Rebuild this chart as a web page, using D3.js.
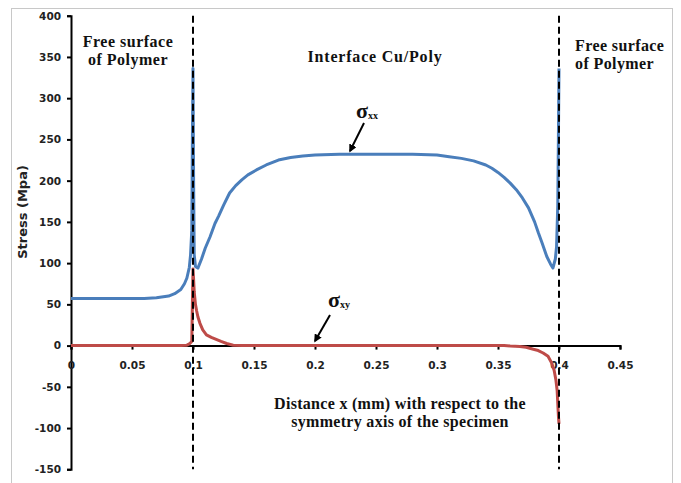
<!DOCTYPE html>
<html><head><meta charset="utf-8">
<script src="https://cdn.jsdelivr.net/npm/d3@7"></script>
<style>body{margin:0;background:#fff}svg{display:block}</style>
</head><body><svg id="c" width="681" height="483"></svg>
<script>
// ---- data ----
const xTicks = [0, 0.05, 0.1, 0.15, 0.2, 0.25, 0.3, 0.35, 0.4, 0.45];
const xTickLabels = ["0","0.05","0.1","0.15","0.2","0.25","0.3","0.35","0.4","0.45"];
const yTicks = [-150, -100, -50, 0, 50, 100, 150, 200, 250, 300, 350, 400];
const yTickLabels = ["-150","-100","-50","0","50","100","150","200","250","300","350","400"];
const interfaces = [0.1, 0.4];

const sxxX = [0, 0.02, 0.04, 0.06, 0.07, 0.08, 0.085, 0.09, 0.093, 0.095, 0.097, 0.098, 0.099, 0.0995, 0.1,
  0.1005, 0.101, 0.102, 0.104, 0.107, 0.11, 0.114, 0.118, 0.121, 0.125, 0.13, 0.135, 0.14, 0.145, 0.152,
  0.16, 0.17, 0.18, 0.19, 0.2, 0.22, 0.25, 0.28, 0.3, 0.31, 0.32, 0.33, 0.34, 0.345, 0.35, 0.355, 0.36,
  0.365, 0.37, 0.375, 0.38, 0.383, 0.386, 0.39, 0.393, 0.395, 0.397, 0.398, 0.399, 0.3995, 0.4];
const sxxY = [57, 57, 57, 57, 58, 60, 63, 68, 75, 82, 95, 110, 140, 250, 336,
  200, 110, 96, 94, 105, 118, 132, 148, 157, 170, 185, 194, 201, 207, 213,
  219, 225, 228, 230, 231, 232, 232, 232, 231, 229, 227, 224, 219, 215, 210, 204, 197,
  189, 179, 167, 150, 137, 125, 108, 99, 94, 105, 120, 170, 250, 336];

const sxyX = [0, 0.05, 0.09, 0.095, 0.097, 0.099, 0.0995, 0.1, 0.1005, 0.101, 0.102, 0.103, 0.104, 0.1057,
  0.108, 0.111, 0.115, 0.119, 0.123, 0.1276, 0.133, 0.14, 0.2, 0.3, 0.355, 0.36, 0.368, 0.373, 0.379,
  0.383, 0.387, 0.391, 0.394, 0.396, 0.3975, 0.3985, 0.399, 0.3995, 0.4];
const sxyY = [0, 0, 0, 0.5, 2, 5, 50, 93, 80, 65, 50, 42, 35, 27,
  19, 13, 10, 7.5, 5, 2.5, 0.5, 0, 0, 0, 0, -0.5, -1, -2, -4.5,
  -6, -9, -13, -21, -30, -42, -55, -70, -85, -95];

// ---- drawing ----
const svg = d3.select("#c");
const x = d3.scaleLinear().domain([0, 0.45]).range([71, 620]);
const y = d3.scaleLinear().domain([-150, 400]).range([469.3, 15.7]);

svg.append("rect").attr("x", 11.5).attr("y", 8.5).attr("width", 661).attr("height", 520)
  .attr("fill", "#fff").attr("stroke", "#c8c8c8").attr("stroke-width", 1);

const tickFont = "'DejaVu Sans', sans-serif";
const serif = "'Liberation Serif', serif";

// y axis
const yAxis = svg.append("g").attr("transform", `translate(${x(0)},0)`)
  .call(d3.axisLeft(y).tickValues(yTicks).tickFormat((d, i) => yTickLabels[i]).tickSize(4).tickPadding(6));
yAxis.select(".domain").attr("stroke", "#000").attr("stroke-width", 2);
yAxis.selectAll(".tick line").attr("stroke", "#000").attr("stroke-width", 2);
yAxis.selectAll(".tick text").attr("font-family", tickFont).attr("font-weight", "bold")
  .attr("font-size", 10.5).attr("fill", "#222");

// x axis at y=0
const xAxis = svg.append("g").attr("transform", `translate(0,${y(0)})`)
  .call(d3.axisBottom(x).tickValues(xTicks).tickFormat((d, i) => xTickLabels[i]).tickSize(4).tickPadding(12));
xAxis.select(".domain").attr("stroke", "#000").attr("stroke-width", 2);
xAxis.selectAll(".tick line").attr("stroke", "#000").attr("stroke-width", 2);
xAxis.selectAll(".tick text").attr("font-family", tickFont).attr("font-weight", "bold")
  .attr("font-size", 10.5).attr("fill", "#222");

// series
const line = d3.line().x(d => x(d[0])).y(d => y(d[1]));
svg.append("path").datum(sxyX.map((v, i) => [v, sxyY[i]])).attr("d", line)
  .attr("fill", "none").attr("stroke", "#be4b48").attr("stroke-width", 3).attr("stroke-linejoin", "round");
svg.append("path").datum(sxxX.map((v, i) => [v, sxxY[i]])).attr("d", line)
  .attr("fill", "none").attr("stroke", "#4a7ebb").attr("stroke-width", 3).attr("stroke-linejoin", "round");

// dashed interface lines
svg.selectAll(".iface").data(interfaces).enter().append("line")
  .attr("x1", d => x(d)).attr("x2", d => x(d)).attr("y1", y(400)).attr("y2", y(-150))
  .attr("stroke", "#000").attr("stroke-width", 2).attr("stroke-dasharray", "7,4");

// y title
svg.append("text").attr("transform", "translate(27,212) rotate(-90)").attr("text-anchor", "middle")
  .attr("font-family", tickFont).attr("font-weight", "bold").attr("font-size", 13).attr("fill", "#222")
  .text("Stress (Mpa)");

// annotations
function txt(xp, yp, s, anchor, size, ls) {
  svg.append("text").attr("x", xp).attr("y", yp).attr("text-anchor", anchor || "middle")
    .attr("font-family", serif).attr("font-weight", "bold").attr("font-size", size || 16)
    .attr("letter-spacing", ls || 0).attr("fill", "#111").text(s);
}
txt(128, 47, "Free surface", "middle", 16, 0.5);
txt(128, 65, "of Polymer", "middle", 16, 0.5);
txt(375, 62, "Interface Cu/Poly", "middle", 16, 0.8);
txt(575, 51, "Free surface", "start", 16, 0.4);
txt(575, 69, "of Polymer", "start", 16, 0.4);
txt(400, 409, "Distance x (mm) with respect to the", "middle", 16, 0.3);
txt(400, 427, "symmetry axis of the specimen", "middle", 16, 0.3);

function sigma(xp, yp, sub) {
  const t = svg.append("text").attr("x", xp).attr("y", yp).attr("font-family", serif)
    .attr("font-weight", "bold").attr("fill", "#111");
  t.append("tspan").attr("font-size", 22).text("σ");
  t.append("tspan").attr("font-size", 10).attr("dy", 1).text(sub);
}
sigma(356, 118, "xx");
sigma(328, 307, "xy");

// arrows
const defs = svg.append("defs");
defs.append("marker").attr("id", "ah").attr("viewBox", "0 0 10 10").attr("refX", 8).attr("refY", 5)
  .attr("markerWidth", 4).attr("markerHeight", 4).attr("orient", "auto")
  .append("path").attr("d", "M0,0 L10,5 L0,10 z").attr("fill", "#000");
function arrow(x1, y1, x2, y2) {
  svg.append("line").attr("x1", x1).attr("y1", y1).attr("x2", x2).attr("y2", y2)
    .attr("stroke", "#000").attr("stroke-width", 2).attr("marker-end", "url(#ah)");
}
arrow(364, 123, 350, 151);
arrow(330, 315, 315, 341);
</script></body></html>
